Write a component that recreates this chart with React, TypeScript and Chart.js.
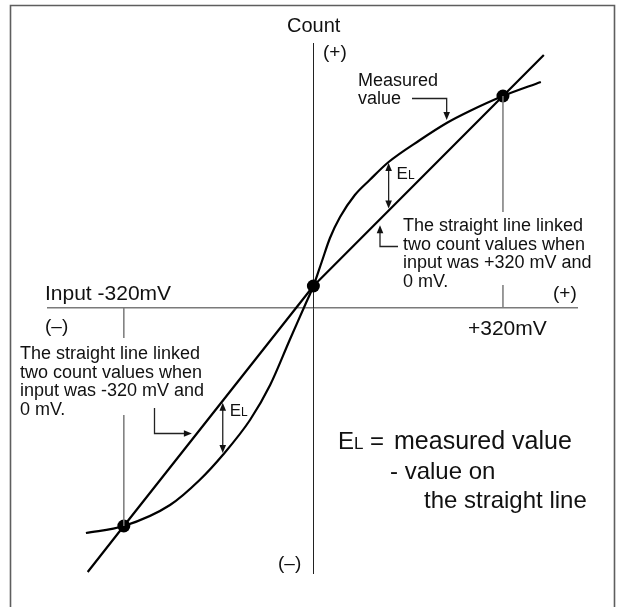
import { useEffect, useRef } from "react";
import { Chart, registerables } from "chart.js";

Chart.register(...registerables);

// Measured value curve (input in mV, count in arbitrary units; 0 count at the input axis)
const inputMv = [-384, -320, -242, -192, -153, -107, -73, -40, -14, 0, 14, 28, 45, 70, 95, 127, 180, 225, 264, 320, 384];
const measuredCount = [-225, -218, -197, -172, -147, -112, -77, -32, 3, 22, 46, 70, 91, 113, 128, 146, 168, 185, 197, 212, 226];

// Straight line linking counts at 0 mV and +320 mV
const upperLineMv = [0, 320, 389];
const upperLineCount = [22, 212, 253];

// Straight line linking counts at -320 mV and 0 mV
const lowerLineMv = [-381, -320, 0];
const lowerLineCount = [-264, -218, 22];

// Reference points
const refMv = [-320, 0, 320];
const refCount = [-218, 22, 212];

// Guide lines at ±320 mV (broken where the notes sit)
const guideMv = [320, -320];
const guidePosCount = [212, 96, null, 23, 0];
const guideNegCount = [0, -30, null, -107, -218];

// Where the EL arrows and pointers sit (mV)
const elUpperMv = 127;
const elLowerMv = -153;
const measuredPointerMv = 225;

const FONT = '"Liberation Sans", Arial, Helvetica, sans-serif';

function interp(xs: number[], ys: number[], x: number) {
  for (let i = 0; i < xs.length - 1; i++) {
    if (x >= xs[i] && x <= xs[i + 1]) {
      const t = (x - xs[i]) / (xs[i + 1] - xs[i]);
      return ys[i] + t * (ys[i + 1] - ys[i]);
    }
  }
  return ys[0];
}

function head(ctx: CanvasRenderingContext2D, x: number, y: number, dir: string, len = 8, half = 3.3) {
  ctx.beginPath();
  ctx.moveTo(x, y);
  if (dir === "up") { ctx.lineTo(x - half, y + len); ctx.lineTo(x + half, y + len); }
  if (dir === "down") { ctx.lineTo(x - half, y - len); ctx.lineTo(x + half, y - len); }
  if (dir === "right") { ctx.lineTo(x - len, y - half); ctx.lineTo(x - len, y + half); }
  if (dir === "left") { ctx.lineTo(x + len, y - half); ctx.lineTo(x + len, y + half); }
  ctx.closePath();
  ctx.fill();
}

function seg(ctx: CanvasRenderingContext2D, pts: number[][]) {
  ctx.beginPath();
  ctx.moveTo(pts[0][0], pts[0][1]);
  for (let i = 1; i < pts.length; i++) ctx.lineTo(pts[i][0], pts[i][1]);
  ctx.stroke();
}

function text(ctx: CanvasRenderingContext2D, s: string, x: number, y: number, size: number) {
  ctx.font = `${size}px ${FONT}`;
  ctx.fillText(s, x, y);
  return x + ctx.measureText(s).width;
}

function elLabel(ctx: CanvasRenderingContext2D, x: number, y: number, big: number, small: number) {
  const x2 = text(ctx, "E", x, y, big);
  return text(ctx, "L", x2, y, small);
}

const notesPlugin = {
  id: "notes",
  beforeDraw(chart: any) {
    const ctx = chart.ctx as CanvasRenderingContext2D;
    ctx.save();
    ctx.fillStyle = "#ffffff";
    ctx.fillRect(0, 0, chart.width, chart.height);
    ctx.strokeStyle = "#5e5e5e";
    ctx.lineWidth = 1.6;
    seg(ctx, [[10.5, chart.height], [10.5, 5.5], [614.5, 5.5], [614.5, chart.height]]);
    ctx.restore();
  },
  afterDatasetsDraw(chart: any) {
    const ctx = chart.ctx as CanvasRenderingContext2D;
    const xs = chart.scales.x;
    const ys = chart.scales.y;
    const px = (v: number) => xs.getPixelForValue(v);
    const py = (v: number) => ys.getPixelForValue(v);
    ctx.save();
    ctx.fillStyle = "#111";
    ctx.strokeStyle = "#222";
    ctx.lineWidth = 1.3;

    // Measured value pointer
    const mx = px(measuredPointerMv);
    const my = py(interp(inputMv, measuredCount, measuredPointerMv)) - 3;
    seg(ctx, [[412, 98.5], [mx, 98.5], [mx, my - 6]]);
    head(ctx, mx, my, "down");

    // Upper EL double arrow
    const ux = px(elUpperMv);
    const uTop = py(interp(inputMv, measuredCount, elUpperMv)) + 1;
    const uBot = py(interp(upperLineMv, upperLineCount, elUpperMv)) - 2;
    seg(ctx, [[ux, uTop + 6], [ux, uBot - 6]]);
    head(ctx, ux, uTop, "up");
    head(ctx, ux, uBot, "down");

    // Upper straight line pointer
    const sx = 380;
    const sMv = xs.getValueForPixel(sx);
    const sTip = py(interp(upperLineMv, upperLineCount, sMv)) + 6;
    seg(ctx, [[398, 246.5], [sx, 246.5], [sx, sTip + 6]]);
    head(ctx, sx, sTip, "up");

    // Lower EL double arrow
    const lx = px(elLowerMv);
    const lTop = py(interp(lowerLineMv, lowerLineCount, elLowerMv)) + 2;
    const lBot = py(interp(inputMv, measuredCount, elLowerMv)) - 2;
    seg(ctx, [[lx, lTop + 6], [lx, lBot - 6]]);
    head(ctx, lx, lTop, "up");
    head(ctx, lx, lBot, "down");

    // Lower straight line pointer
    const ty = 433.5;
    const tCount = ys.getValueForPixel(ty);
    const tMv = interp(lowerLineCount, lowerLineMv, tCount);
    const tTip = px(tMv) - 5;
    seg(ctx, [[154.5, 408], [154.5, ty], [tTip - 6, ty]]);
    head(ctx, tTip, ty, "right");

    // Texts
    ctx.fillStyle = "#111";
    ctx.textBaseline = "alphabetic";
    text(ctx, "Count", 287, 32, 20);
    text(ctx, "(+)", 323, 58, 19);
    text(ctx, "Measured", 358, 86, 18);
    text(ctx, "value", 358, 104, 18);
    elLabel(ctx, ux + 8, 179, 17, 12);

    const rightLines = ["The straight line linked", "two count values when", "input was +320 mV and", "0 mV."];
    rightLines.forEach((s, i) => text(ctx, s, 403, 231 + i * 18.5, 18));

    text(ctx, "Input -320mV", 45, 300, 21);
    text(ctx, "(+)", 553, 299, 19);
    text(ctx, "(\u2013)", 45, 332, 19);
    text(ctx, "+320mV", 468, 335, 21);

    const leftLines = ["The straight line linked", "two count values when", "input was -320 mV and", "0 mV."];
    leftLines.forEach((s, i) => text(ctx, s, 20, 359 + i * 18.5, 18));

    elLabel(ctx, lx + 7, 416, 17, 12);

    elLabel(ctx, 338, 449, 24, 17);
    text(ctx, "=", 370, 449, 24);
    text(ctx, "measured value", 394, 449, 25);
    text(ctx, "- value on", 390, 479, 24);
    text(ctx, "the straight line", 424, 508, 24);

    text(ctx, "(\u2013)", 278, 569, 19);
    ctx.restore();
  },
};

export default function App() {
  const ref = useRef<HTMLCanvasElement>(null);

  useEffect(() => {
    const pts = (xs: number[], ys: (number | null)[]) => xs.map((x, i) => ({ x, y: ys[i] }));
    const chart = new Chart(ref.current as HTMLCanvasElement, {
      type: "scatter",
      data: {
        datasets: [
          {
            data: guidePosCount.map((y) => ({ x: guideMv[0], y })) as any,
            showLine: true,
            borderColor: "#7a7a7a",
            borderWidth: 1.5,
            pointRadius: 0,
            spanGaps: false,
          },
          {
            data: guideNegCount.map((y) => ({ x: guideMv[1], y })) as any,
            showLine: true,
            borderColor: "#7a7a7a",
            borderWidth: 1.5,
            pointRadius: 0,
            spanGaps: false,
          },
          {
            data: pts(upperLineMv, upperLineCount) as any,
            showLine: true,
            borderColor: "#000",
            borderWidth: 2.2,
            pointRadius: 0,
          },
          {
            data: pts(lowerLineMv, lowerLineCount) as any,
            showLine: true,
            borderColor: "#000",
            borderWidth: 2.2,
            pointRadius: 0,
          },
          {
            data: pts(inputMv, measuredCount) as any,
            showLine: true,
            borderColor: "#000",
            borderWidth: 2.2,
            pointRadius: 0,
            cubicInterpolationMode: "monotone",
          },
          {
            data: pts(refMv, refCount) as any,
            showLine: false,
            pointRadius: 6.5,
            pointBackgroundColor: "#000",
            pointBorderColor: "#000",
            pointBorderWidth: 0,
          },
        ],
      },
      options: {
        animation: false,
        responsive: false,
        events: [],
        clip: false as any,
        layout: { padding: { left: 48, right: 43, top: 43, bottom: 34 }, autoPadding: false },
        plugins: { legend: { display: false }, tooltip: { enabled: false } },
        scales: {
          x: {
            type: "linear",
            min: -448,
            max: 445,
            position: { y: 0 } as any,
            grid: { display: false },
            ticks: { display: false },
            border: { display: true, color: "#7a7a7a", width: 1.5 },
          },
          y: {
            type: "linear",
            min: -265,
            max: 265,
            position: { x: 0 } as any,
            grid: { display: false },
            ticks: { display: false },
            border: { display: true, color: "#222", width: 1 },
          },
        },
      },
      plugins: [notesPlugin],
    });
    return () => chart.destroy();
  }, []);

  return (
    <div style={{ position: "absolute", left: 0, top: 0, width: 620, height: 607, background: "#fff" }}>
      <canvas ref={ref} width={620} height={607} style={{ display: "block", width: 620, height: 607 }} />
    </div>
  );
}
